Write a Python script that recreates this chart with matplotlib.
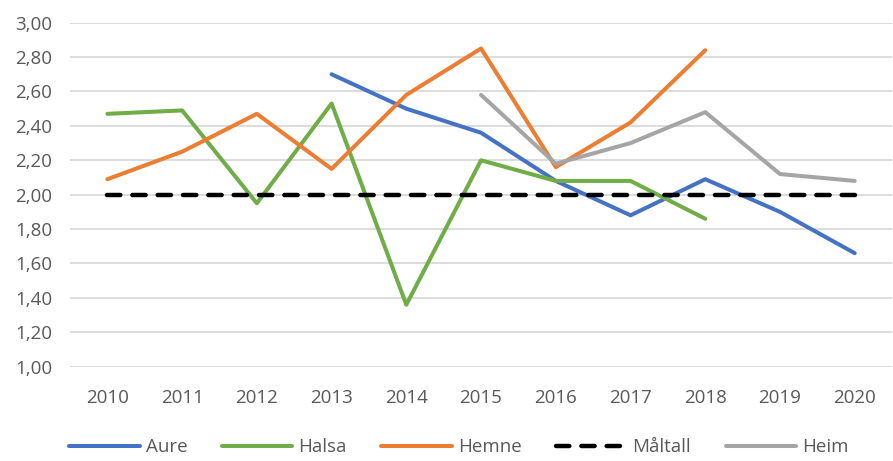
import matplotlib
matplotlib.use("Agg")
import matplotlib.pyplot as plt
import numpy as np

years = ["2010", "2011", "2012", "2013", "2014", "2015", "2016", "2017", "2018", "2019", "2020"]
nan = np.nan
aure = [nan, nan, nan, 2.70, 2.50, 2.36, 2.08, 1.88, 2.09, 1.90, 1.66]
halsa = [2.47, 2.49, 1.95, 2.53, 1.36, 2.20, 2.08, 2.08, 1.86, nan, nan]
hemne = [2.09, 2.25, 2.47, 2.15, 2.58, 2.85, 2.16, 2.42, 2.84, nan, nan]
maltall = [2.00] * 11
heim = [nan, nan, nan, nan, nan, 2.58, 2.18, 2.30, 2.48, 2.12, 2.08]
yticks = [1.0, 1.2, 1.4, 1.6, 1.8, 2.0, 2.2, 2.4, 2.6, 2.8, 3.0]

plt.rcParams['font.family'] = ['Open Sans', 'DejaVu Sans']

fig = plt.figure(figsize=(8.93, 4.61), dpi=100)
ax = fig.add_axes([0.0784, 0.2046, 0.9206, 0.7462])

x = np.arange(len(years))
lw = 2.9
ax.plot(x, aure, color='#4472C4', lw=lw, label='Aure', solid_capstyle='round', solid_joinstyle='round')
ax.plot(x, halsa, color='#70AD47', lw=lw, label='Halsa', solid_capstyle='round', solid_joinstyle='round')
ax.plot(x, hemne, color='#ED7D31', lw=lw, label='Hemne', solid_capstyle='round', solid_joinstyle='round')
ax.plot(x, maltall, color='black', lw=3.2, label='Måltall', linestyle=(0, (3, 2.7)), dash_capstyle='round')
ax.plot(x, heim, color='#A5A5A5', lw=lw, label='Heim', solid_capstyle='round', solid_joinstyle='round')

ax.set_xlim(-0.5, len(years) - 0.5)
ax.set_ylim(1.0, 3.0)
ax.set_yticks(yticks)
ax.set_yticklabels([f"{v:.2f}".replace('.', ',') for v in yticks])
ax.set_xticks(x)
ax.set_xticklabels(years)
ax.yaxis.grid(True, color='#D9D9D9', lw=1.3)
ax.set_axisbelow(True)
for s in ax.spines.values():
    s.set_visible(False)
ax.tick_params(axis='both', length=0, labelsize=13.5, colors='#595959')
ax.tick_params(axis='y', pad=13)
ax.tick_params(axis='x', pad=16)

handles, labels = ax.get_legend_handles_labels()
fig.legend(handles, labels, loc='center', bbox_to_anchor=(0.514, 0.03), ncol=5,
           frameon=False, fontsize=13.5, labelcolor='#595959', handlelength=3.75,
           handletextpad=0.32, columnspacing=1.85)

fig.savefig('out.png', dpi=100)
